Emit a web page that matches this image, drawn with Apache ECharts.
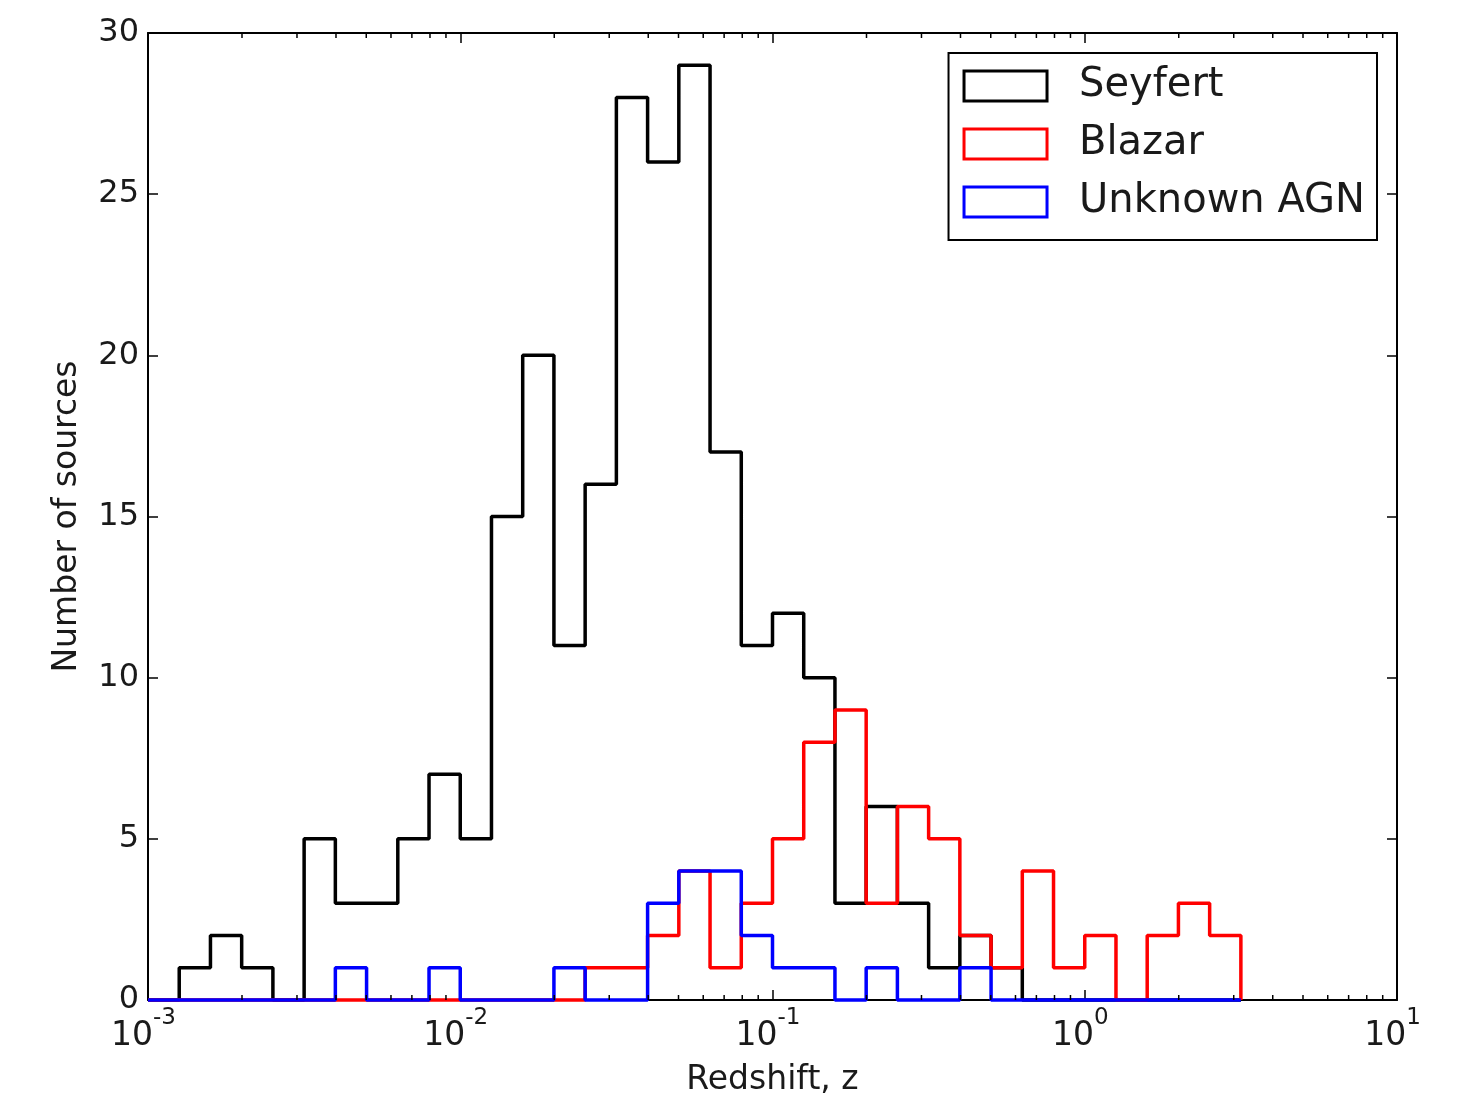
<!DOCTYPE html>
<html>
<head>
<meta charset="utf-8">
<script src="https://cdn.jsdelivr.net/npm/echarts@6/dist/echarts.min.js"></script>
<style>
html,body{margin:0;padding:0;background:#fff;}
#chart{width:1459px;height:1096px;}
</style>
</head>
<body>
<div id="chart"></div>
<script>
// Bin edges (log10 of redshift), 0.1 dex wide
const binEdgeExponents = [-3.0,-2.9,-2.8,-2.7,-2.6,-2.5,-2.4,-2.3,-2.2,-2.1,
  -2.0,-1.9,-1.8,-1.7,-1.6,-1.5,-1.4,-1.3,-1.2,-1.1,
  -1.0,-0.9,-0.8,-0.7,-0.6,-0.5,-0.4,-0.3,-0.2,-0.1,
  0.0,0.1,0.2,0.3,0.4,0.5];
const seyfertCounts = [0,1,2,1,0,5,3,3,5,7,5,15,20,11,16,28,26,29,17,11,12,10,3,6,3,1,2,1,0,0,0,0,0,0,0];
const blazarCounts  = [0,0,0,0,0,0,0,0,0,0,0,0,0,0,1,1,2,4,1,3,5,8,9,3,6,5,2,1,4,1,2,0,2,3,2];
const unknownCounts = [0,0,0,0,0,0,1,0,0,1,0,0,0,1,0,0,3,4,4,2,1,1,0,1,0,0,1,0,0,0,0,0,0,0,0];
const seriesNames = ['Seyfert','Blazar','Unknown AGN'];
const seriesColors = ['#000000','#ff0000','#0000ff'];
const yTicks = [0,5,10,15,20,25,30];
const minorTickValues = [2e-3,3e-3,4e-3,5e-3,6e-3,7e-3,8e-3,9e-3,
  2e-2,3e-2,4e-2,5e-2,6e-2,7e-2,8e-2,9e-2,
  2e-1,3e-1,4e-1,5e-1,6e-1,7e-1,8e-1,9e-1,
  2,3,4,5,6,7,8,9];

const edges = binEdgeExponents.map(e => Math.pow(10, e));
function stepPoints(counts){
  const pts = [[edges[0], 0]];
  for (let i = 0; i < counts.length; i++){
    pts.push([edges[i], counts[i]]);
    pts.push([edges[i+1], counts[i]]);
  }
  pts.push([edges[counts.length], 0]);
  return pts;
}
const allCounts = [seyfertCounts, blazarCounts, unknownCounts];
const FONT = 'DejaVu Sans';
const TXT = '#1a1a1a';

const chart = echarts.init(document.getElementById('chart'), null, {renderer:'canvas'});
const series = allCounts.map((c, i) => ({
  name: seriesNames[i],
  type: 'line',
  data: stepPoints(c),
  showSymbol: false,
  symbol: 'none',
  lineStyle: {color: seriesColors[i], width: 3.5},
  itemStyle: {color: seriesColors[i]},
  z: 3 + i,
  animation: false,
  clip: false
}));
series.push({
  type: 'custom',
  xAxisIndex: 0, yAxisIndex: 0,
  data: minorTickValues.map(v => [v, 0]),
  silent: true,
  animation: false,
  clip: false,
  z: 10,
  renderItem: function(params, api){
    const v = api.value(0);
    const b = api.coord([v, 0]);
    const t = api.coord([v, 30]);
    return {type:'group', children:[
      {type:'line', shape:{x1:b[0], y1:b[1], x2:b[0], y2:b[1]-5}, style:{stroke:'#000', lineWidth:1.5}},
      {type:'line', shape:{x1:t[0], y1:t[1], x2:t[0], y2:t[1]+5}, style:{stroke:'#000', lineWidth:1.5}}
    ]};
  }
});

const option = {
  backgroundColor: '#ffffff',
  animation: false,
  grid: {left:148, right:62, top:33, bottom:96, containLabel:false, outerBoundsMode:'none'},
  legend: {
    orient: 'vertical',
    right: 82, top: 53,
    backgroundColor: '#fff',
    borderColor: '#000', borderWidth: 2,
    padding: [13, 12, 18, 14],
    itemWidth: 83, itemHeight: 30, itemGap: 18,
    icon: 'rect',
    textStyle: {fontFamily: FONT, fontSize: 40, color: TXT, lineHeight: 34, padding:[6,0,0,27]},
    data: seriesNames.map((n, i) => ({
      name: n, icon: 'rect',
      itemStyle: {color: '#ffffff', borderColor: seriesColors[i], borderWidth: 3}
    }))
  },
  xAxis: [{
    type: 'log', logBase: 10, min: 0.001, max: 10,
    name: 'Redshift, z', nameLocation: 'middle', nameGap: 64,
    nameTextStyle: {fontFamily: FONT, fontSize: 33, color: TXT},
    axisLine: {show: true, onZero: false, lineStyle: {color: '#000', width: 2}},
    axisTick: {show: true, inside: true, length: 10, lineStyle: {color:'#000', width: 1.5}},
    splitLine: {show: false},
    axisLabel: {
      margin: 7,
      formatter: v => '{b|10}{s|' + Math.round(Math.log10(v)) + '}',
      rich: {
        b: {fontFamily: FONT, fontSize: 33, color: TXT, lineHeight: 46, verticalAlign:'bottom'},
        s: {fontFamily: FONT, fontSize: 23, color: TXT, lineHeight: 22, verticalAlign: 'top', padding:[0,9,0,0]}
      }
    }
  }, {
    type: 'log', logBase: 10, min: 0.001, max: 10, position: 'top',
    axisLine: {show: true, onZero: false, lineStyle: {color: '#000', width: 2}},
    axisTick: {show: true, inside: true, length: 10, lineStyle: {color:'#000', width: 1.5}},
    axisLabel: {show: false}, splitLine: {show: false}
  }],
  yAxis: [{
    type: 'value', min: 0, max: 30, interval: 5,
    name: 'Number of sources', nameLocation: 'middle', nameGap: 64,
    nameTextStyle: {fontFamily: FONT, fontSize: 33, color: TXT},
    axisLine: {show: true, lineStyle: {color: '#000', width: 2}},
    axisTick: {show: true, inside: true, length: 10, lineStyle: {color:'#000', width: 1.5}},
    splitLine: {show: false},
    axisLabel: {margin: 9, fontFamily: FONT, fontSize: 32, color: TXT,
      formatter: v => (yTicks.indexOf(v) >= 0 ? String(v) : '')}
  }, {
    type: 'value', min: 0, max: 30, interval: 5, position: 'right',
    axisLine: {show: true, lineStyle: {color: '#000', width: 2}},
    axisTick: {show: true, inside: true, length: 10, lineStyle: {color:'#000', width: 1.5}},
    axisLabel: {show: false}, splitLine: {show: false}
  }],
  series: series
};
chart.setOption(option);
</script>
</body>
</html>
